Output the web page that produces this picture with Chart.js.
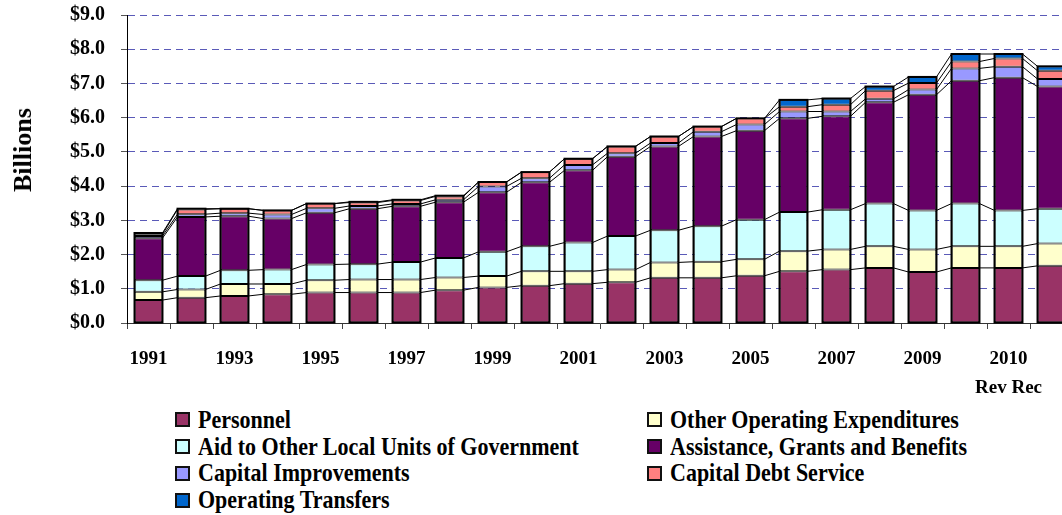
<!DOCTYPE html>
<html>
<head>
<meta charset="utf-8">
<script src="https://cdn.jsdelivr.net/npm/chart.js@4.4.0/dist/chart.umd.min.js"></script>
<style>
body { margin:0; width:1062px; height:515px; overflow:hidden; background:#fff; position:relative; }
#wrap { position:absolute; left:0; top:-13px; width:1080px; height:413px; }
#ytitle { position:absolute; left:23px; top:150px; transform:translate(-50%,-50%) rotate(-90deg);
  font:bold 26px 'Liberation Serif', serif; white-space:nowrap; color:#000; }
.item { position:absolute; font:bold 22px 'Liberation Serif', serif; white-space:nowrap; height:27px; line-height:27px; color:#000; }
.item .txt { display:inline-block; transform:scaleY(1.12); }
.box { display:inline-block; width:11px; height:11px; border:2px solid #111; vertical-align:middle; margin-right:8px; position:relative; top:-2px; }
</style>
</head>
<body>
<div id="wrap"><canvas id="chart" width="1080" height="413"></canvas></div>
<div id="ytitle">Billions</div>
<div id="legend"></div>
<script>
// categories (only every other one gets a label, like the original)
var categories = ['1991','1992','1993','1994','1995','1996','1997','1998','1999','2000',
  '2001','2002','2003','2004','2005','2006','2007','2008','2009','2010',['2010','Rev Rec'],'2011'];

// values in billions, per series
var personnel  = [0.67,0.74,0.79,0.84,0.89,0.89,0.89,0.96,1.04,1.09,1.15,1.19,1.32,1.32,1.38,1.51,1.56,1.61,1.49,1.61,1.61,1.67];
var otherOp    = [0.24,0.24,0.35,0.30,0.36,0.38,0.38,0.37,0.33,0.42,0.36,0.37,0.45,0.47,0.48,0.59,0.59,0.63,0.66,0.63,0.63,0.65];
var aid        = [0.34,0.39,0.40,0.42,0.46,0.45,0.51,0.57,0.71,0.73,0.84,0.98,0.94,1.04,1.16,1.14,1.16,1.25,1.14,1.25,1.05,1.02];
var assistance = [1.23,1.73,1.58,1.49,1.51,1.62,1.63,1.63,1.74,1.87,2.11,2.32,2.45,2.62,2.60,2.74,2.73,2.96,3.38,3.59,3.88,3.57];
var capImp     = [0.06,0.08,0.09,0.12,0.13,0.08,0.07,0.07,0.17,0.12,0.16,0.10,0.10,0.14,0.18,0.20,0.14,0.10,0.15,0.36,0.32,0.22];
var debtSvc    = [0.05,0.14,0.13,0.12,0.14,0.10,0.10,0.10,0.13,0.18,0.18,0.20,0.19,0.15,0.18,0.14,0.20,0.24,0.19,0.20,0.24,0.24];
var transfers  = [0.04,0.02,0,0,0,0.02,0.02,0.02,0,0,0,0,0,0,0,0.20,0.18,0.12,0.18,0.22,0.13,0.13];

var seriesNames  = ['Personnel','Other Operating Expenditures','Aid to Other Local Units of Government',
  'Assistance, Grants and Benefits','Capital Improvements','Capital Debt Service','Operating Transfers'];
var seriesColors = ['#993366','#FFFFCC','#CCFFFF','#660066','#9999FF','#FF8080','#0066CC'];
var seriesData   = [personnel, otherOp, aid, assistance, capImp, debtSvc, transfers];

var FONT = "'Liberation Serif', serif";

// thin black lines joining the top of each segment to the next bar,
// plus a heavier outline round each whole stack
const seriesLines = {
  id: 'seriesLines',
  afterDatasetsDraw(chart) {
    const ctx = chart.ctx;
    const n = chart.data.datasets.length;
    ctx.save();
    ctx.strokeStyle = '#000';
    ctx.lineWidth = 1;
    chart.data.datasets.forEach(function(ds, d){
      const meta = chart.getDatasetMeta(d);
      for (let i = 0; i < meta.data.length - 1; i++) {
        const a = meta.data[i], b = meta.data[i + 1];
        ctx.beginPath();
        ctx.moveTo(a.x + a.width / 2, a.y);
        ctx.lineTo(b.x - b.width / 2, b.y);
        ctx.stroke();
      }
    });
    const first = chart.getDatasetMeta(0), last = chart.getDatasetMeta(n - 1);
    ctx.lineWidth = 2;
    for (let i = 0; i < first.data.length; i++) {
      const b = first.data[i], t = last.data[i];
      ctx.strokeRect(b.x - b.width / 2, t.y, b.width, b.base - t.y);
    }
    ctx.restore();
  }
};

new Chart(document.getElementById('chart'), {
  type: 'bar',
  data: {
    labels: categories,
    datasets: seriesData.map(function(vals, k){
      return {
        label: seriesNames[k],
        data: vals,
        backgroundColor: seriesColors[k],
        borderColor: '#000',
        borderWidth: 1,
        borderSkipped: false,
        barPercentage: 0.65,
        categoryPercentage: 1.0
      };
    })
  },
  options: {
    responsive: false,
    animation: false,
    layout: { padding: { top: 1, left: 0, right: 7, bottom: 0 } },
    plugins: { legend: { display: false }, tooltip: { enabled: false } },
    scales: {
      x: {
        stacked: true,
        afterFit: function(scale){ scale.height = 77; },
        grid: { offset: true, drawOnChartArea: false, drawTicks: true, tickLength: 6, color: '#444' },
        border: { color: '#333', width: 1 },
        ticks: {
          autoSkip: false, maxRotation: 0, padding: 15, color: '#000',
          font: { family: FONT, size: 19, weight: 'bold', lineHeight: 1.55 },
          callback: function(v, i){ return i % 2 === 0 ? this.getLabelForValue(v) : ''; }
        }
      },
      y: {
        stacked: true,
        min: 0, max: 9,
        afterFit: function(scale){ scale.width = 127; },
        grid: {
          color: function(c){ return c.tick && c.tick.value === 0 ? 'rgba(0,0,0,0)' : '#5a5ab8'; },
          tickColor: '#555', tickLength: 6, tickBorderDash: []
        },
        border: { color: '#000', width: 1, dash: [7, 5] },
        ticks: {
          stepSize: 1, padding: 16, color: '#000',
          font: { family: FONT, size: 20, weight: 'bold' },
          callback: function(v){ return '$' + v.toFixed(1); }
        }
      }
    }
  },
  plugins: [seriesLines]
});

// legend in two columns, built from the same series names/colours
var legend = document.getElementById('legend');
seriesNames.forEach(function(name, k){
  var row = Math.floor(k / 2), col = k % 2;
  var el = document.createElement('div');
  el.className = 'item';
  el.style.left = (col === 0 ? 175 : 647) + 'px';
  el.style.top = (406 + row * 26.7) + 'px';
  el.innerHTML = '<span class="box" style="background:' + seriesColors[k] + '"></span><span class="txt">' + name + '</span>';
  legend.appendChild(el);
});
</script>
</body>
</html>
